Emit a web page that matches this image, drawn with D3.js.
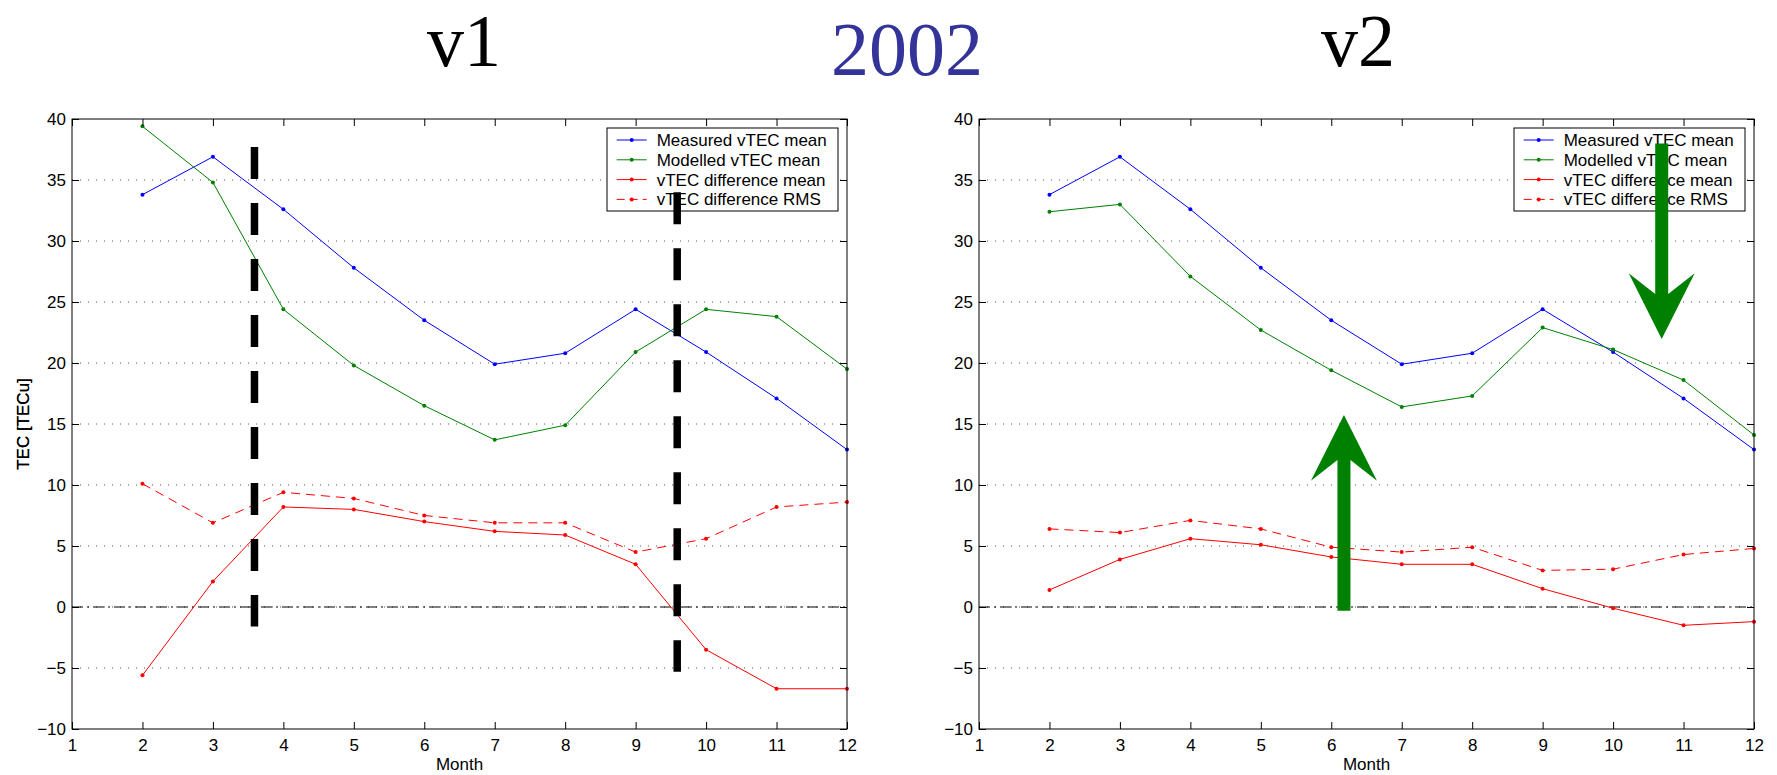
<!DOCTYPE html>
<html><head><meta charset="utf-8">
<script src="https://cdn.jsdelivr.net/npm/d3@7"></script>
<style>body{margin:0;background:#fff}svg{display:block}</style>
</head><body>
<svg id="chart" width="1777" height="775"></svg>
<script>
// ---------- data ----------
const months = [2, 3, 4, 5, 6, 7, 8, 9, 10, 11, 12];
const measuredMean = [33.8, 36.9, 32.6, 27.8, 23.5, 19.9, 20.8, 24.4, 20.9, 17.1, 12.9];
const modelledMeanV1 = [39.4, 34.8, 24.4, 19.8, 16.5, 13.7, 14.9, 20.9, 24.4, 23.8, 19.5];
const diffMeanV1 = [-5.6, 2.1, 8.2, 8.0, 7.0, 6.2, 5.9, 3.5, -3.5, -6.7, -6.7];
const diffRmsV1 = [10.1, 6.9, 9.4, 8.9, 7.5, 6.9, 6.9, 4.5, 5.6, 8.2, 8.6];
const modelledMeanV2 = [32.4, 33.0, 27.1, 22.7, 19.4, 16.4, 17.3, 22.9, 21.1, 18.6, 14.1];
const diffMeanV2 = [1.4, 3.9, 5.6, 5.1, 4.1, 3.5, 3.5, 1.5, -0.1, -1.5, -1.2];
const diffRmsV2 = [6.4, 6.1, 7.1, 6.4, 4.9, 4.5, 4.9, 3.0, 3.1, 4.3, 4.8];
const xTicks = [1, 2, 3, 4, 5, 6, 7, 8, 9, 10, 11, 12];
const yTicks = [-10, -5, 0, 5, 10, 15, 20, 25, 30, 35, 40];
const seriesNames = ["Measured vTEC mean", "Modelled vTEC mean", "vTEC difference mean", "vTEC difference RMS"];
const panelTitles = ["v1", "v2"];
const mainTitle = "2002";
const xLabel = "Month";
const yLabel = "TEC [TECu]";
// annotations (data coordinates: x = month, from/to = TEC)
const blackDashesV1 = [{x: 3.59, from: 37.7, to: -1.6}, {x: 9.59, from: 34.0, to: -5.3}];
const greenArrowsV2 = [{x: 6.18, from: -0.3, to: 15.74}, {x: 10.69, from: 38.0, to: 21.97}];

// ---------- layout / style ----------
const W = 775, H = 610, TOP = 119;
const colors = ["#0000ff", "#008000", "#ff0000", "#ff0000"];
const dashes = [null, null, null, "9,6"];
const font = "'Liberation Sans', Arial, Helvetica, sans-serif";
const serif = "'Liberation Serif','Times New Roman',serif";
const svg = d3.select("#chart");

svg.append("text").attr("x", 907).attr("y", 75).attr("text-anchor", "middle")
  .attr("font-family", serif).attr("font-size", 76)
  .attr("fill", "#333399").text(mainTitle);

function panel(left, title, titleX, series, extra) {
  const x = d3.scaleLinear().domain([1, 12]).range([0, W]);
  const y = d3.scaleLinear().domain([-10, 40]).range([H, 0]);
  const g = svg.append("g").attr("transform", `translate(${left},${TOP})`);

  svg.append("text").attr("x", titleX).attr("y", 66).attr("text-anchor", "middle")
    .attr("font-family", serif).attr("font-size", 74)
    .attr("fill", "#000").text(title);

  // grid
  g.append("g").selectAll("line").data(yTicks.filter(t => t > -10 && t < 40)).join("line")
    .attr("x1", 0).attr("x2", W).attr("y1", d => y(d)).attr("y2", d => y(d))
    .attr("stroke", "#555").attr("stroke-width", 1).attr("stroke-dasharray", "1,7");

  // zero line
  g.append("line").attr("x1", x(1)).attr("x2", x(12)).attr("y1", y(0)).attr("y2", y(0))
    .attr("stroke", "#000").attr("stroke-width", 1).attr("stroke-dasharray", "11,4,2,4");

  const line = d3.line().x((d, i) => x(months[i])).y(d => y(d));
  series.forEach((vals, k) => {
    g.append("path").datum(vals).attr("d", line).attr("fill", "none")
      .attr("stroke", colors[k]).attr("stroke-width", 1)
      .attr("stroke-dasharray", dashes[k]);
    g.append("g").selectAll("circle").data(vals).join("circle")
      .attr("cx", (d, i) => x(months[i])).attr("cy", d => y(d)).attr("r", 2)
      .attr("fill", colors[k]);
  });

  // axes
  const ax = d3.axisBottom(x).tickValues(xTicks).tickSize(-7).tickPadding(10).tickFormat(d3.format("d"));
  const gx = g.append("g").attr("transform", `translate(0,${H})`).call(ax);
  const gxt = g.append("g").call(d3.axisTop(x).tickValues(xTicks).tickSize(-7).tickFormat(""));
  const ay = d3.axisLeft(y).tickValues(yTicks).tickSize(-7).tickPadding(6)
    .tickFormat(d => d < 0 ? "\u2212" + Math.abs(d) : d);
  const gy = g.append("g").call(ay);
  const gyr = g.append("g").attr("transform", `translate(${W},0)`)
    .call(d3.axisRight(y).tickValues(yTicks).tickSize(-7).tickFormat(""));
  [gx, gxt, gy, gyr].forEach(a => {
    a.select(".domain").remove();
    a.selectAll("line").attr("stroke", "#000");
    a.selectAll("text").attr("font-family", font).attr("font-size", 17).attr("fill", "#000");
  });
  g.append("rect").attr("width", W).attr("height", H).attr("fill", "none")
    .attr("stroke", "#000").attr("stroke-width", 1);

  g.append("text").attr("x", W / 2).attr("y", 651).attr("text-anchor", "middle")
    .attr("font-family", font).attr("font-size", 17).text(xLabel);
  g.append("text").attr("transform", `translate(${29 - left},${H / 2}) rotate(-90)`)
    .attr("text-anchor", "middle").attr("font-family", font).attr("font-size", 17).text(yLabel);

  // legend
  const lw = 231, lh = 83;
  const lg = g.append("g").attr("transform", `translate(${W - 240},9)`);
  lg.append("rect").attr("width", lw).attr("height", lh).attr("fill", "#fff")
    .attr("stroke", "#000").attr("stroke-width", 1);
  seriesNames.forEach((name, k) => {
    const cy = 12 + k * 19.8;
    lg.append("line").attr("x1", 9.7).attr("x2", 39.7).attr("y1", cy).attr("y2", cy)
      .attr("stroke", colors[k]).attr("stroke-width", 1).attr("stroke-dasharray", dashes[k] ? "8,5" : null);
    lg.append("circle").attr("cx", 24.7).attr("cy", cy).attr("r", 2).attr("fill", colors[k]);
    lg.append("text").attr("x", 49.7).attr("y", cy + 6).attr("font-family", font)
      .attr("font-size", 17).text(name);
  });

  extra(g, x, y);
}

panel(72, panelTitles[0], 464, [measuredMean, modelledMeanV1, diffMeanV1, diffRmsV1], (g, x, y) => {
  g.append("g").selectAll("line").data(blackDashesV1).join("line")
    .attr("x1", d => x(d.x)).attr("x2", d => x(d.x))
    .attr("y1", d => y(d.from)).attr("y2", d => y(d.to))
    .attr("stroke", "#000").attr("stroke-width", 7.5).attr("stroke-dasharray", "32,24");
});

panel(979, panelTitles[1], 1358, [measuredMean, modelledMeanV2, diffMeanV2, diffRmsV2], (g, x, y) => {
  g.append("g").selectAll("path").data(greenArrowsV2).join("path")
    .attr("d", d => {
      const cx = x(d.x), yb = y(d.from), yt = y(d.to), s = Math.sign(yb - yt);
      const pts = [[cx, yt], [cx + 33, yt + s * 65.7], [cx + 6.5, yt + s * 45], [cx + 6.5, yb],
                   [cx - 6.5, yb], [cx - 6.5, yt + s * 45], [cx - 33, yt + s * 65.7]];
      return "M" + pts.map(p => p.join(",")).join("L") + "Z";
    })
    .attr("fill", "#008000");
});
</script>
</body></html>
